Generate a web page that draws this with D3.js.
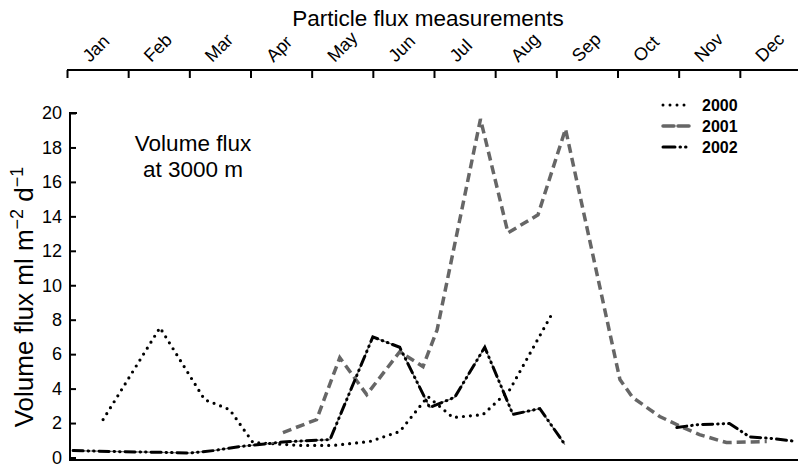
<!DOCTYPE html>
<html>
<head>
<meta charset="utf-8">
<script src="https://cdn.jsdelivr.net/npm/d3@7"></script>
<style>
  body { margin: 0; background: #fff; }
  text { font-family: "Liberation Sans", Arial, sans-serif; }
</style>
</head>
<body>
<div id="chart"></div>
<script>
// months on the top axis
var months = ["Jan", "Feb", "Mar", "Apr", "May", "Jun", "Jul", "Aug", "Sep", "Oct", "Nov", "Dec"];
var yTicks = [0, 2, 4, 6, 8, 10, 12, 14, 16, 18, 20];

// x = month position (0 = 1 Jan, 12 = 31 Dec), y = volume flux
var flux2000 = [
    [0.59, 2.2], [1.52, 7.54], [2.25, 3.36], [2.66, 2.78], [3.04, 0.87],
    [3.81, 0.70], [4.35, 0.70], [4.95, 0.93], [5.44, 1.51], [5.90, 3.54],
    [6.31, 2.32], [6.80, 2.49], [7.24, 3.94], [7.94, 8.41]
];
var flux2001 = [
    [3.53, 1.45], [4.08, 2.2], [4.46, 5.8], [4.90, 3.65], [5.44, 6.14],
    [5.82, 5.28], [6.05, 7.4], [6.76, 19.65], [7.21, 13.04], [7.70, 14.09],
    [8.15, 19.07], [9.04, 4.52], [9.25, 3.48], [9.69, 2.38], [10.07, 1.74],
    [10.34, 1.33], [10.78, 0.87], [11.44, 0.93]
];
var flux2002a = [
    [0.1, 0.4], [0.7, 0.35], [1.52, 0.3], [2.0, 0.26], [2.39, 0.4],
    [2.83, 0.64], [3.15, 0.75], [3.53, 0.9], [4.3, 1.04], [5.0, 7.0],
    [5.44, 6.4], [5.93, 2.9], [6.34, 3.5], [6.83, 6.4], [7.29, 2.5],
    [7.73, 2.84], [8.14, 0.75]
];
var flux2002b = [
    [9.97, 1.74], [10.29, 1.9], [10.83, 1.97], [11.16, 1.2], [11.54, 1.1], [11.93, 0.93]
];

var svg = d3.select("#chart").append("svg")
    .attr("width", 798)
    .attr("height", 464);

var x = d3.scaleLinear().domain([0, 12]).range([67, 801]);
var y = d3.scaleLinear().domain([0, 20]).range([457.5, 113]);

// title
svg.append("text")
    .attr("x", 428).attr("y", 26)
    .attr("text-anchor", "middle")
    .style("font-size", "22.5px")
    .text("Particle flux measurements");

// top month axis
var topAxis = d3.axisBottom(x)
    .tickValues(d3.range(0, 12))
    .tickSize(8)
    .tickFormat("");
var gTop = svg.append("g").attr("transform", "translate(0,70)").call(topAxis);
gTop.select(".domain").attr("stroke-width", 2).attr("d", "M67,0H798");
gTop.selectAll(".tick line").attr("stroke-width", 2);

svg.selectAll(".month")
    .data(months)
    .enter()
    .append("text")
    .attr("class", "month")
    .attr("transform", function (d, i) {
        return "translate(" + (x(i) + 23) + ",63) rotate(-45)";
    })
    .style("font-size", "18px")
    .text(function (d) { return d; });

// left axis
var leftAxis = d3.axisLeft(y)
    .tickValues(yTicks)
    .tickSize(-6)
    .tickPadding(8);
var gLeft = svg.append("g").attr("transform", "translate(70,0)").call(leftAxis);
gLeft.select(".domain").attr("stroke-width", 2).attr("d", "M7,113H0V460");
gLeft.selectAll(".tick line").attr("stroke-width", 2);
gLeft.selectAll(".tick text")
    .style("font-size", "18px")
    .attr("font-family", "Liberation Sans, Arial, sans-serif");

// bottom line
svg.append("line")
    .attr("x1", 69).attr("x2", 798)
    .attr("y1", 460).attr("y2", 460)
    .attr("stroke", "#000")
    .attr("stroke-width", 2);

// y label
var yl = svg.append("text")
    .attr("transform", "translate(33,297) rotate(-90)")
    .attr("text-anchor", "middle")
    .style("font-size", "26px");
yl.append("tspan").text("Volume flux ml m");
yl.append("tspan").attr("dy", -10).style("font-size", "18px").text("\u22122");
yl.append("tspan").attr("dy", 10).text(" d");
yl.append("tspan").attr("dy", -10).style("font-size", "18px").text("\u22121");

// annotation
svg.append("text").attr("x", 193).attr("y", 151).attr("text-anchor", "middle")
    .style("font-size", "22.5px").text("Volume flux");
svg.append("text").attr("x", 193).attr("y", 177).attr("text-anchor", "middle")
    .style("font-size", "22.5px").text("at 3000 m");

var line = d3.line()
    .x(function (d) { return x(d[0]); })
    .y(function (d) { return y(d[1]); });

// 2001 dashed gray
svg.append("path")
    .datum(flux2001)
    .attr("d", line)
    .attr("fill", "none")
    .attr("stroke", "#666")
    .attr("stroke-width", 3.5)
    .attr("stroke-dasharray", "9 5");

// 2000 dotted
svg.append("path")
    .datum(flux2000)
    .attr("d", line)
    .attr("fill", "none")
    .attr("stroke", "#000")
    .attr("stroke-width", 3.2)
    .attr("stroke-linecap", "round")
    .attr("stroke-dasharray", "0 7");

// 2002 dash-dot-dot (with thin line underneath)
svg.append("path")
    .datum(flux2002a)
    .attr("d", line)
    .attr("fill", "none")
    .attr("stroke", "#777")
    .attr("stroke-width", 1.2);
[flux2002a, flux2002b].forEach(function (seg) {
    svg.append("path")
        .datum(seg)
        .attr("d", line)
        .attr("fill", "none")
        .attr("stroke", "#000")
        .attr("stroke-width", 3)
        .attr("stroke-linecap", "round")
        .attr("stroke-dasharray", "10 5 0.5 5 0.5 5");
});

// legend
var legend = [
    { name: "2000", stroke: "#000", width: 3, dash: "0 7", cap: "round" },
    { name: "2001", stroke: "#666", width: 3.5, dash: "11 4", cap: "round" },
    { name: "2002", stroke: "#000", width: 3, dash: "12 5 0.5 5 0.5 5", cap: "round" }
];
var lg = svg.selectAll(".legend")
    .data(legend)
    .enter()
    .append("g")
    .attr("transform", function (d, i) { return "translate(663," + [105, 126, 147][i] + ")"; });
lg.append("line")
    .attr("x1", 0).attr("x2", 27)
    .attr("stroke", function (d) { return d.stroke; })
    .attr("stroke-width", function (d) { return d.width; })
    .attr("stroke-dasharray", function (d) { return d.dash; })
    .attr("stroke-linecap", function (d) { return d.cap; });
lg.append("text")
    .attr("x", 39).attr("y", 6)
    .style("font-size", "16px")
    .style("font-weight", "bold")
    .text(function (d) { return d.name; });
</script>
</body>
</html>
